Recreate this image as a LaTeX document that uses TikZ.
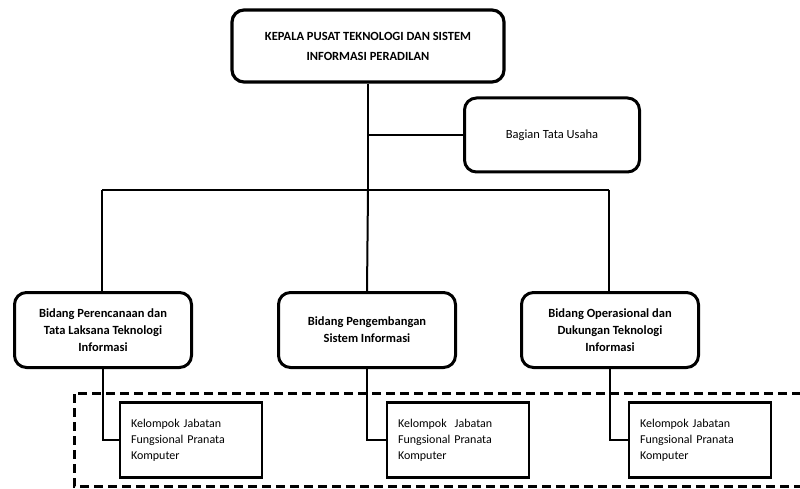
\documentclass[tikz,border=0pt]{standalone}
\usepackage{fontspec}
\setmainfont{Carlito}
\usetikzlibrary{
arrows.meta,
calc,
positioning,
shapes
}
\tikzset{>=latex}

\begin{document}
\begin{tikzpicture}[x=1pt, y=-1pt,
	every node/.style={font=\fontsize{12.5}{17}\selectfont},
	headbox/.style={draw, line width=3.2pt, rounded corners=12pt, minimum width=272pt, minimum height=72pt, align=center, font=\bfseries\fontsize{12.5}{20}\selectfont},
	staffbox/.style={draw, line width=3pt, rounded corners=12pt, minimum width=175pt, minimum height=74pt, align=center},
	unitbox/.style={draw, line width=3pt, rounded corners=12pt, minimum width=177pt, minimum height=75pt, align=center, font=\bfseries\fontsize{12.5}{17}\selectfont},
	groupbox/.style={draw, line width=2.8pt, minimum width=142pt, minimum height=75pt, text width=120pt, align=left, font=\fontsize{12}{16}\selectfont},
	link/.style={line width=2pt},
	zone/.style={line width=3pt, dash pattern=on 9pt off 5pt}]
	\useasboundingbox (0,0) rectangle (800,489);
	% kepala dan tata usaha
	\node[headbox] (kepala) at (368,46) {KEPALA PUSAT TEKNOLOGI DAN SISTEM\\INFORMASI PERADILAN};
	\node[staffbox] (tu) at (552,135) {Bagian Tata Usaha};
	% bidang
	\node[unitbox] (bid1) at (103,330) {Bidang Perencanaan dan\\Tata Laksana Teknologi\\Informasi};
	\node[unitbox] (bid2) at (367,330) {Bidang Pengembangan\\Sistem Informasi};
	\node[unitbox] (bid3) at (610,330) {Bidang Operasional dan\\Dukungan Teknologi\\Informasi};
	% kelompok jabatan fungsional
	\node[groupbox] (kel1) at (191,440) {Kelompok Jabatan\\Fungsional Pranata\\Komputer};
	\node[groupbox] (kel2) at (458,440) {Kelompok\ \ Jabatan\\Fungsional Pranata\\Komputer};
	\node[groupbox] (kel3) at (700,440) {Kelompok Jabatan\\Fungsional Pranata\\Komputer};
	\coordinate (busL) at (102,190);
	\coordinate (busR) at (609,190);
	% garis
	\draw[link] (kepala.south) -- (kepala.south |- busL);
	\draw[link] (kepala.south |- tu.west) -- (tu.west);
	\draw[link] (busL) -- (busR);
	\draw[link] (busL) -- (busL |- bid1.north);
	\draw[link] (kepala.south |- busL) -- (bid2.north);
	\draw[link] (busR) -- (busR |- bid3.north);
	\draw[link] (bid1.south) |- (kel1.west);
	\draw[link] (bid2.south) |- (kel2.west);
	\draw[link] (bid3.south) |- (kel3.west);
	% area jabatan fungsional
	\draw[zone] (801,393) -- (74,393) -- (74,486) -- (801,486);
\end{tikzpicture}
\end{document}
